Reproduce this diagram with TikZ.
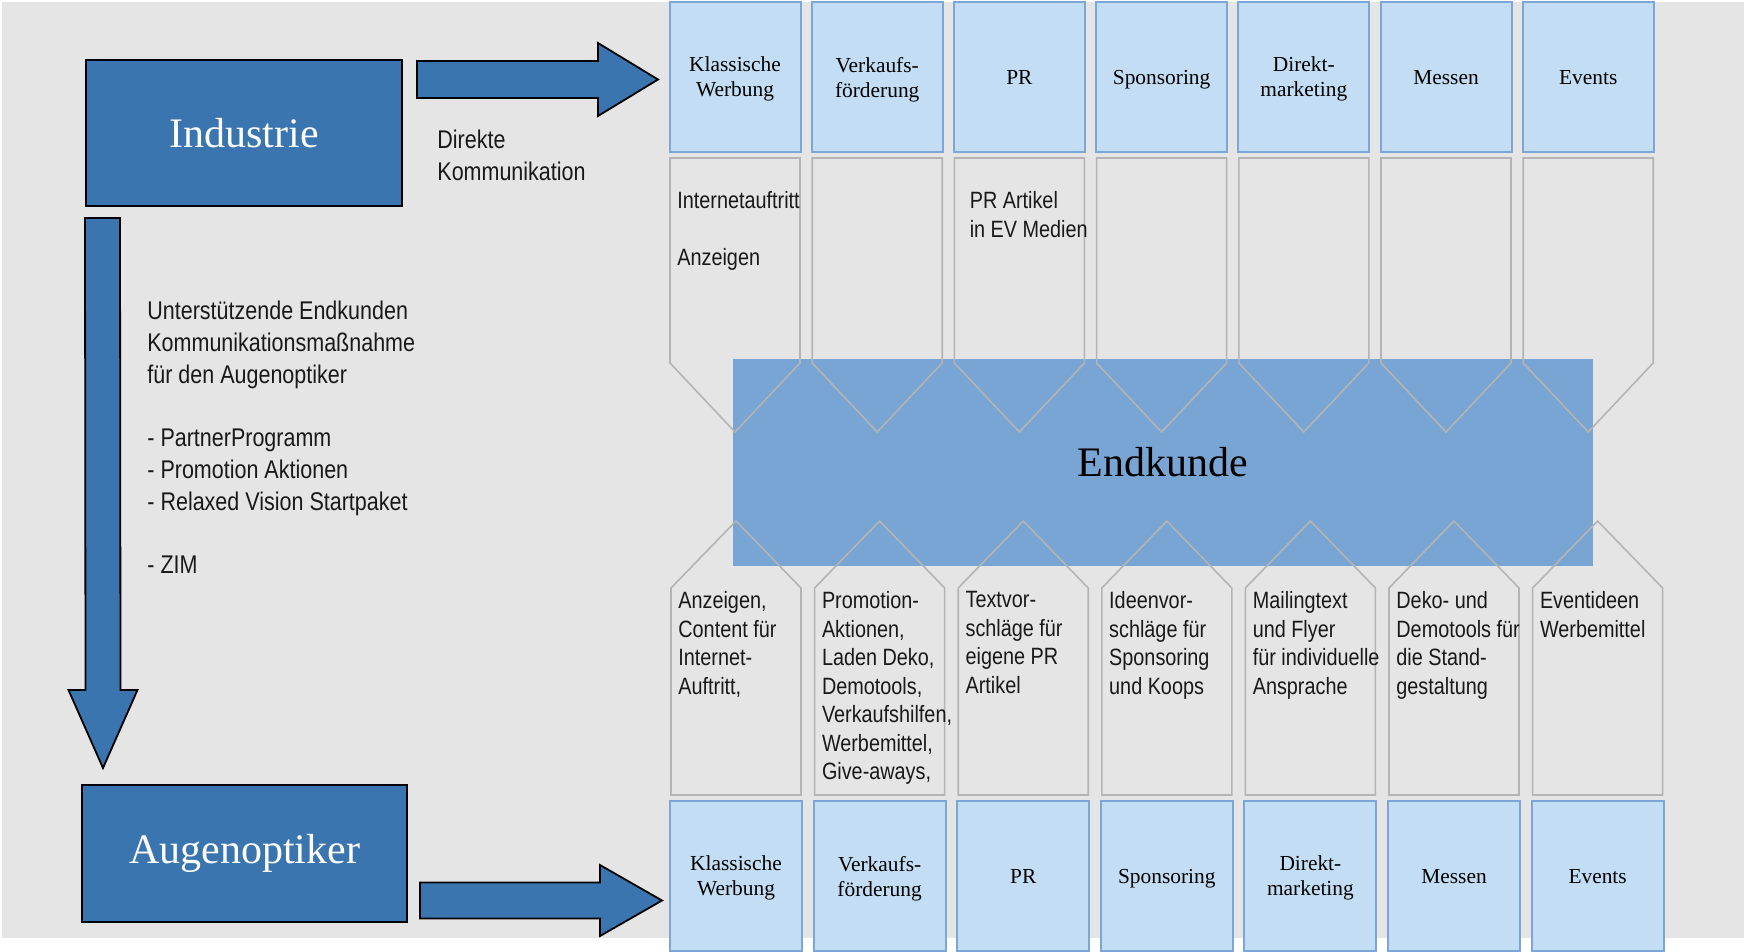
\documentclass[tikz,border=0pt]{standalone}
\usepackage{fontspec}
\setmainfont{Liberation Serif}
\newfontfamily\narrowsans[FakeStretch=0.84]{Liberation Sans}
\usepackage{tikz}
\usetikzlibrary{positioning, calc}
\definecolor{optikBlue}{RGB}{59,117,176}
\definecolor{kanalBlue}{RGB}{194,221,244}
\definecolor{kanalBorder}{RGB}{125,166,214}
\definecolor{endBlue}{RGB}{120,165,211}
\definecolor{tagGray}{RGB}{180,180,180}
\definecolor{bgGray}{RGB}{229,229,229}
\newcommand{\tagdown}[1]{\draw[tagline] (#1.north west) -- (#1.north east) -- (#1.south east) -- ($(#1.south)+(0,69)$) -- (#1.south west) -- cycle;}
\newcommand{\tagup}[1]{\draw[tagline] (#1.south west) -- (#1.north west) -- ($(#1.north)+(0,-67)$) -- (#1.north east) -- (#1.south east) -- cycle;}

\begin{document}
\begin{tikzpicture}[x=0.5pt, y=-0.5pt,
mainbox/.style={rectangle, draw=black, line width=0.9pt, fill=optikBlue,
text=white, outer sep=0pt, font=\fontsize{21}{25}\selectfont},
kanal/.style={rectangle, draw=kanalBorder, line width=1pt, fill=kanalBlue,
minimum width=65.5pt, minimum height=75pt, outer sep=0pt, align=center,
text depth=0pt, font=\fontsize{10.7}{12.5}\selectfont},
tagbody/.style={rectangle, minimum width=65pt, minimum height=102.5pt,
outer sep=0pt, inner sep=0pt},
tagline/.style={draw=tagGray, line width=0.8pt},
tagtext/.style={anchor=north west, inner sep=0pt, align=left,
font=\narrowsans\fontsize{11.8}{14.25}\selectfont, text=black!90},
infotext/.style={anchor=north west, inner sep=0pt, align=left,
font=\narrowsans\fontsize{12.8}{15.85}\selectfont, text=black!90},
blockpfeil/.style={draw=black, line width=0.9pt, fill=optikBlue, line join=miter}]
\useasboundingbox (0,0) rectangle (1744,952);
\fill[white] (0,0) rectangle (1744,952);
\fill[bgGray] (2,2) rectangle (1744,938);

% Akteure
\node[mainbox, minimum width=158pt, minimum height=73pt] (industrie) at (244,133) {Industrie};
\node[mainbox, minimum width=162.5pt, minimum height=68.5pt] (augenoptiker) at (244.5,853.5) {Augenoptiker};

% Kanaele oben
\node[kanal] (oben1) at (735,77) {Klassische\\Werbung};
\node[kanal, right=5.6pt of oben1] (oben2) {Verkaufs-\\förderung};
\node[kanal, right=5.6pt of oben2] (oben3) {PR};
\node[kanal, right=5.6pt of oben3] (oben4) {Sponsoring};
\node[kanal, right=5.6pt of oben4] (oben5) {Direkt-\\marketing};
\node[kanal, right=5.6pt of oben5] (oben6) {Messen};
\node[kanal, right=5.6pt of oben6] (oben7) {Events};

% Kanaele unten
\node[kanal, minimum width=66pt] (unten1) at (736,876) {Klassische\\Werbung};
\node[kanal, minimum width=66pt, right=5.8pt of unten1] (unten2) {Verkaufs-\\förderung};
\node[kanal, minimum width=66pt, right=5.8pt of unten2] (unten3) {PR};
\node[kanal, minimum width=66pt, right=5.8pt of unten3] (unten4) {Sponsoring};
\node[kanal, minimum width=66pt, right=5.8pt of unten4] (unten5) {Direkt-\\marketing};
\node[kanal, minimum width=66pt, right=5.8pt of unten5] (unten6) {Messen};
\node[kanal, minimum width=66pt, right=5.8pt of unten6] (unten7) {Events};

% Endkunde
\node[rectangle, fill=endBlue, minimum width=430pt, minimum height=103.5pt,
font=\fontsize{21}{25}\selectfont] (endkunde) at (1163,462.5) {Endkunde};

% Fahnen oben
\node[tagbody, below=3pt of oben1] (otag1) {};
\node[tagbody, below=3pt of oben2] (otag2) {};
\node[tagbody, below=3pt of oben3] (otag3) {};
\node[tagbody, below=3pt of oben4] (otag4) {};
\node[tagbody, below=3pt of oben5] (otag5) {};
\node[tagbody, below=3pt of oben6] (otag6) {};
\node[tagbody, below=3pt of oben7] (otag7) {};
\tagdown{otag1} \tagdown{otag2} \tagdown{otag3} \tagdown{otag4}
\tagdown{otag5} \tagdown{otag6} \tagdown{otag7}
\node[tagtext] (otext1) at ($(otag1.north west)+(7,33)$) {Internetauftritt\\[14.25pt]Anzeigen};
\node[tagtext] (otext3) at ($(otag3.north west)+(15,33)$) {PR Artikel\\in EV Medien};

% Fahnen unten
\node[tagbody, minimum height=103.5pt, above=3pt of unten1] (utag1) {};
\node[tagbody, minimum height=103.5pt, above=3pt of unten2] (utag2) {};
\node[tagbody, minimum height=103.5pt, above=3pt of unten3] (utag3) {};
\node[tagbody, minimum height=103.5pt, above=3pt of unten4] (utag4) {};
\node[tagbody, minimum height=103.5pt, above=3pt of unten5] (utag5) {};
\node[tagbody, minimum height=103.5pt, above=3pt of unten6] (utag6) {};
\node[tagbody, minimum height=103.5pt, above=3pt of unten7] (utag7) {};
\tagup{utag1} \tagup{utag2} \tagup{utag3} \tagup{utag4}
\tagup{utag5} \tagup{utag6} \tagup{utag7}
\node[tagtext] (utext1) at ($(utag1.north west)+(7,3)$) {Anzeigen,\\Content für\\Internet-\\Auftritt,};
\node[tagtext] (utext2) at ($(utag2.north west)+(7,3)$) {Promotion-\\Aktionen,\\Laden Deko,\\Demotools,\\Verkaufshilfen,\\Werbemittel,\\Give-aways,};
\node[tagtext] (utext3) at ($(utag3.north west)+(7,3)$) {Textvor-\\schläge für\\eigene PR\\Artikel};
\node[tagtext] (utext4) at ($(utag4.north west)+(7,3)$) {Ideenvor-\\schläge für\\Sponsoring\\und Koops};
\node[tagtext] (utext5) at ($(utag5.north west)+(7,3)$) {Mailingtext\\und Flyer\\für individuelle\\Ansprache};
\node[tagtext] (utext6) at ($(utag6.north west)+(7,3)$) {Deko- und\\Demotools für\\die Stand-\\gestaltung};
\node[tagtext] (utext7) at ($(utag7.north west)+(7,3)$) {Eventideen\\Werbemittel};

% Texte links
\node[infotext] (direkt) at (437,130) {Direkte\\Kommunikation};
\node[infotext] (massnahmen) at (147,301) {Unterstützende Endkunden\\Kommunikationsmaßnahme\\für den Augenoptiker\\[15.85pt]- PartnerProgramm\\- Promotion Aktionen\\- Relaxed Vision Startpaket\\[15.85pt]- ZIM};

% Blockpfeile
\coordinate (dkStart) at ($(industrie.north east)+(15,19.5)$);
\coordinate (dkEnd) at ($(oben1.west)+(-11.5,2.5)$);
\draw[blockpfeil] ($(dkStart)+(0,-18.5)$) -- ($(dkEnd)+(-60,-18.5)$) -- ($(dkEnd)+(-60,-36.5)$)
  -- (dkEnd) -- ($(dkEnd)+(-60,36.5)$) -- ($(dkEnd)+(-60,18.5)$) -- ($(dkStart)+(0,18.5)$) -- cycle;
\coordinate (stStart) at ($(industrie.south west)+(16.5,12)$);
\coordinate (stEnd) at ($(augenoptiker.north west)+(21,-17)$);
\draw[blockpfeil] ($(stStart)+(-17.5,0)$) -- ($(stEnd)+(-17.5,-78)$) -- ($(stEnd)+(-34.5,-78)$)
  -- (stEnd) -- ($(stEnd)+(34.5,-78)$) -- ($(stEnd)+(17.5,-78)$) -- ($(stStart)+(17.5,0)$) -- cycle;
\coordinate (aoStart) at ($(augenoptiker.east)+(13,47)$);
\coordinate (aoEnd) at ($(unten1.west)+(-8,24.5)$);
\draw[blockpfeil] ($(aoStart)+(0,-18)$) -- ($(aoEnd)+(-62,-18)$) -- ($(aoEnd)+(-62,-35.5)$)
  -- (aoEnd) -- ($(aoEnd)+(-62,35.5)$) -- ($(aoEnd)+(-62,18)$) -- ($(aoStart)+(0,18)$) -- cycle;
\end{tikzpicture}
\end{document}
